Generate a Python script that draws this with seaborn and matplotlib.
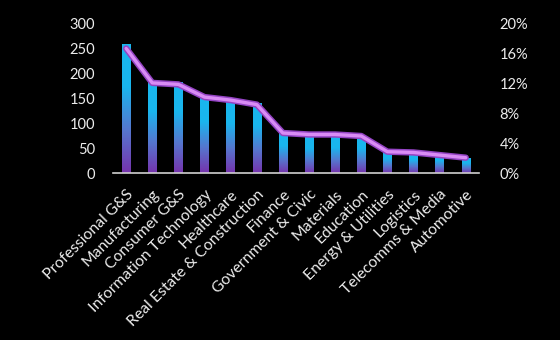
import numpy as np
import pandas as pd
import matplotlib
matplotlib.use("Agg")
import matplotlib.pyplot as plt
import matplotlib.patheffects as pe
from matplotlib.colors import LinearSegmentedColormap
from matplotlib.ticker import FuncFormatter, MultipleLocator
import seaborn as sns

# Sector data
sectors = [
    "Professional G&S", "Manufacturing", "Consumer G&S", "Information Technology",
    "Healthcare", "Real Estate & Construction", "Finance", "Government & Civic",
    "Materials", "Education", "Energy & Utilities", "Logistics",
    "Telecomms & Media", "Automotive",
]
counts = [260, 186, 184, 155, 150, 142, 81, 74, 75, 73, 43, 40, 37, 30]
share_pct = [16.7, 12.1, 11.9, 10.2, 9.8, 9.2, 5.4, 5.2, 5.2, 5.0, 2.9, 2.8, 2.45, 2.1]

df = pd.DataFrame({"sector": sectors, "count": counts, "share": share_pct})

BG = "#000000"
FG = "#ececec"
TOP = "#19b6ee"
BOTTOM = "#7633ad"

sns.set_theme(style="white")
plt.rcParams["font.family"] = ["Lato", "DejaVu Sans"]

fig = plt.figure(figsize=(5.6, 3.4), dpi=100, facecolor=BG)
ax = fig.add_axes([0.202, 0.49, 0.653, 0.44])
ax.set_facecolor(BG)

sns.barplot(data=df, x="sector", y="count", ax=ax, width=0.32,
            color=TOP, saturation=1, edgecolor="none")

# Vertical gradient fill for every bar
cmap = LinearSegmentedColormap.from_list("bar_grad", [BOTTOM, "#5577cf", TOP, TOP],
                                         N=256)
grad = np.linspace(0, 1, 256).reshape(-1, 1)
for patch in list(ax.patches):
    x0, y0 = patch.get_x(), patch.get_y()
    w, h = patch.get_width(), patch.get_height()
    im = ax.imshow(grad, cmap=cmap, origin="lower", aspect="auto",
                   extent=(x0, x0 + w, y0, y0 + h), zorder=2,
                   interpolation="bilinear")
    im.set_clip_path(patch)
    patch.set_facecolor("none")

ax.set_xlim(-0.5, len(sectors) - 0.5)
ax.set_ylim(0, 300)
ax.yaxis.set_major_locator(MultipleLocator(50))
ax.set_xlabel("")
ax.set_ylabel("")
for s in ["top", "left", "right"]:
    ax.spines[s].set_visible(False)
ax.spines["bottom"].set_color("#d0d0d0")
ax.spines["bottom"].set_linewidth(1.2)
ax.tick_params(axis="y", length=0, pad=13, labelsize=10.5, colors=FG)
ax.tick_params(axis="x", length=0, pad=10, labelsize=11.3, colors=FG)
ax.set_xticks(range(len(sectors)))
ax.set_xticklabels(sectors, rotation=45, ha="right", va="top",
                   rotation_mode="anchor")

# Share line on the secondary axis
ax2 = ax.twinx()
sns.lineplot(data=df, x="sector", y="share", ax=ax2, color="#d98cf5",
             linewidth=2.4, sort=False, zorder=5,
             path_effects=[pe.Stroke(linewidth=4.6, foreground="#9444c4"),
                           pe.Normal()])
ax2.set_ylim(0, 20)
ax2.yaxis.set_major_locator(MultipleLocator(4))
ax2.yaxis.set_major_formatter(FuncFormatter(lambda v, p: f"{v:.0f}%"))
ax2.set_ylabel("")
ax2.set_xlabel("")
for s in ["top", "left", "right", "bottom"]:
    ax2.spines[s].set_visible(False)
ax2.tick_params(axis="y", length=0, pad=15, labelsize=10.5, colors=FG)
ax2.set_xlim(-0.5, len(sectors) - 0.5)

fig.savefig("out.png", dpi=100, facecolor=BG)
